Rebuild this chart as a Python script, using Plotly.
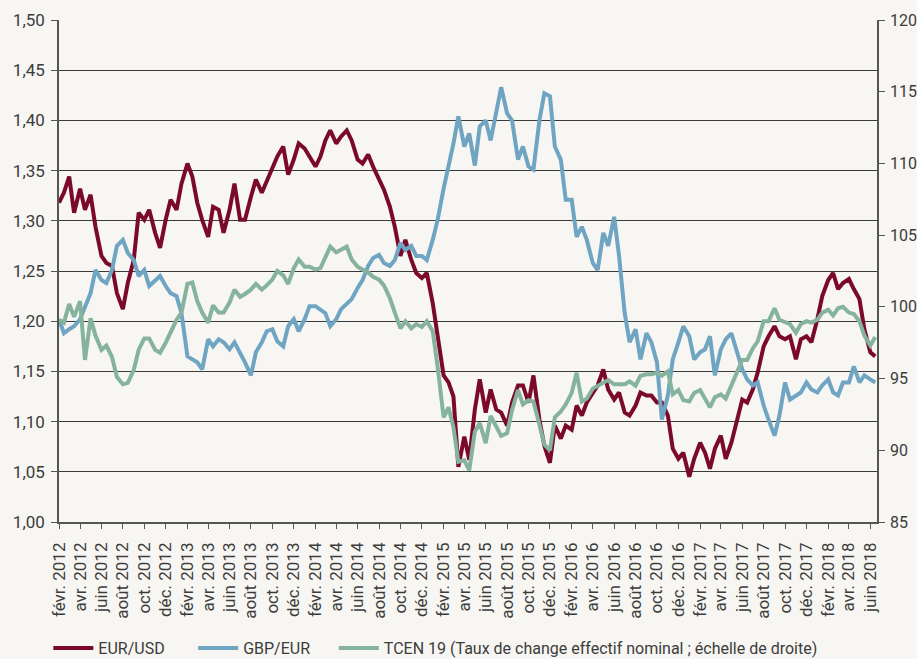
import pandas as pd
import plotly.graph_objects as go

# semi-monthly observation dates (1st and 15th of each month), Feb 2012 - Jun 2018
dates = pd.date_range("2012-02-01", "2018-06-15", freq="SMS")

eur_usd = [
    1.318, 1.328, 1.344, 1.308, 1.332, 1.311, 1.326, 1.294, 1.265, 1.258,
    1.255, 1.228, 1.212, 1.238, 1.261, 1.308, 1.301, 1.311, 1.288, 1.273,
    1.301, 1.321, 1.311, 1.337, 1.357, 1.344, 1.318, 1.301, 1.284, 1.314,
    1.311, 1.288, 1.311, 1.337, 1.301, 1.301, 1.324, 1.341, 1.328, 1.340,
    1.354, 1.364, 1.374, 1.346, 1.361, 1.377, 1.372, 1.364, 1.354, 1.364,
    1.380, 1.390, 1.377, 1.384, 1.390, 1.380, 1.361, 1.357, 1.366, 1.354,
    1.342, 1.331, 1.314, 1.294, 1.265, 1.281, 1.261, 1.248, 1.243, 1.248,
    1.218, 1.185, 1.146, 1.139, 1.125, 1.055, 1.085, 1.062, 1.112, 1.142,
    1.109, 1.132, 1.112, 1.109, 1.096, 1.119, 1.136, 1.136, 1.119, 1.146,
    1.102, 1.076, 1.059, 1.096, 1.083, 1.096, 1.092, 1.116, 1.106, 1.119,
    1.129, 1.136, 1.152, 1.132, 1.122, 1.129, 1.109, 1.106, 1.116, 1.129,
    1.126, 1.126, 1.119, 1.119, 1.106, 1.073, 1.063, 1.069, 1.045, 1.063,
    1.079, 1.069, 1.053, 1.073, 1.086, 1.063, 1.079, 1.099, 1.122, 1.119,
    1.132, 1.149, 1.175, 1.185, 1.195, 1.185, 1.182, 1.185, 1.162, 1.182,
    1.185, 1.179, 1.202, 1.225, 1.241, 1.248, 1.232, 1.238, 1.242, 1.232,
    1.222, 1.192, 1.169, 1.165,
]

gbp_eur = [
    1.202, 1.188, 1.192, 1.195, 1.202, 1.215, 1.228, 1.251, 1.241, 1.238,
    1.251, 1.275, 1.281, 1.268, 1.261, 1.245, 1.251, 1.235, 1.241, 1.245,
    1.235, 1.228, 1.225, 1.208, 1.165, 1.162, 1.159, 1.152, 1.182, 1.175,
    1.182, 1.179, 1.172, 1.179, 1.169, 1.159, 1.146, 1.169, 1.179, 1.190,
    1.192, 1.180, 1.175, 1.195, 1.202, 1.190, 1.202, 1.215, 1.215, 1.212,
    1.208, 1.195, 1.202, 1.212, 1.217, 1.222, 1.233, 1.241, 1.255, 1.263,
    1.266, 1.258, 1.255, 1.261, 1.278, 1.271, 1.275, 1.265, 1.265, 1.261,
    1.281, 1.301, 1.332, 1.354, 1.377, 1.404, 1.374, 1.387, 1.355, 1.394,
    1.400, 1.380, 1.407, 1.433, 1.407, 1.400, 1.361, 1.374, 1.354, 1.351,
    1.400, 1.427, 1.424, 1.374, 1.361, 1.321, 1.321, 1.284, 1.294, 1.281,
    1.258, 1.251, 1.288, 1.275, 1.304, 1.265, 1.208, 1.179, 1.192, 1.162,
    1.188, 1.179, 1.159, 1.102, 1.126, 1.162, 1.179, 1.195, 1.185, 1.162,
    1.169, 1.172, 1.185, 1.146, 1.172, 1.182, 1.188, 1.172, 1.152, 1.142,
    1.136, 1.139, 1.116, 1.102, 1.086, 1.106, 1.139, 1.122, 1.126, 1.129,
    1.139, 1.132, 1.129, 1.136, 1.142, 1.129, 1.126, 1.139, 1.139, 1.155,
    1.139, 1.146, 1.142, 1.139,
]

tcen19 = [
    99.1, 98.9, 100.2, 99.3, 100.4, 96.3, 99.2, 98.0, 97.0, 97.3,
    96.5, 95.1, 94.6, 94.7, 95.6, 97.0, 97.8, 97.8, 97.0, 96.8,
    97.5, 98.3, 99.1, 99.6, 101.6, 101.7, 100.4, 99.6, 98.9, 100.1,
    99.6, 99.6, 100.3, 101.2, 100.7, 100.9, 101.2, 101.6, 101.2, 101.5,
    101.9, 102.5, 102.2, 101.6, 102.7, 103.3, 102.8, 102.8, 102.6, 102.7,
    103.4, 104.2, 103.8, 104.0, 104.2, 103.3, 102.8, 102.6, 102.4, 102.1,
    101.9, 101.5, 100.6, 99.6, 98.5, 99.0, 98.5, 98.8, 98.6, 99.0,
    98.3, 95.8, 92.3, 93.0, 91.6, 89.2, 89.3, 88.6, 91.3, 91.9,
    90.5, 92.4, 91.6, 91.0, 91.2, 92.8, 94.2, 93.2, 93.5, 93.4,
    91.8, 90.4, 90.0, 92.3, 92.7, 93.2, 94.0, 95.4, 93.4, 93.6,
    94.3, 94.5, 94.7, 94.9, 94.6, 94.6, 94.6, 94.8, 94.5, 95.2,
    95.3, 95.3, 95.4, 95.2, 95.5, 93.9, 94.2, 93.5, 93.4, 94.0,
    94.2, 93.6, 93.0, 93.7, 93.9, 93.6, 94.5, 95.3, 96.3, 96.3,
    97.1, 97.6, 99.0, 99.0, 99.9, 99.1, 98.9, 98.8, 98.2, 98.8,
    99.0, 98.9, 99.1, 99.6, 99.8, 99.4, 99.9, 100.0, 99.6, 99.5,
    99.0, 98.0, 97.3, 97.9,
]

series_names = ["EUR/USD", "GBP/EUR",
                "TCEN 19 (Taux de change effectif nominal ; échelle de droite)"]
colors = ["#7b0a2a", "#6fa5c2", "#86b39d"]

month_abbr = ["févr.", "avr.", "juin", "août", "oct.", "déc."]
month_num = [2, 4, 6, 8, 10, 12]
years = [2012, 2013, 2014, 2015, 2016, 2017, 2018]
tick_vals, tick_text = [], []
for y in years:
    for m, a in zip(month_num, month_abbr):
        if (y == 2018 and m > 6):
            continue
        tick_vals.append(f"{y}-{m:02d}-01")
        tick_text.append(f"{a} {y}")

font_family = "Roboto, 'DejaVu Sans', sans-serif"
text_color = "#3c3c3c"
bg = "#f7f6f2"

fig = go.Figure()
fig.add_trace(go.Scatter(x=dates, y=eur_usd, name=series_names[0], mode="lines",
                         line=dict(color=colors[0], width=4), legend="legend"))
fig.add_trace(go.Scatter(x=dates, y=gbp_eur, name=series_names[1], mode="lines",
                         line=dict(color=colors[1], width=4), legend="legend2"))
fig.add_trace(go.Scatter(x=dates, y=tcen19, name=series_names[2], mode="lines",
                         line=dict(color=colors[2], width=4), yaxis="y2",
                         legend="legend3"))

legend_common = dict(orientation="h", xanchor="left", y=-0.251, yanchor="middle",
                     font=dict(size=16, color=text_color), bgcolor="rgba(0,0,0,0)",
                     itemwidth=40)

fig.update_layout(
    width=917, height=659,
    paper_bgcolor=bg, plot_bgcolor=bg,
    margin=dict(l=59, r=40, t=20, b=137, autoexpand=False),
    separators=", ",
    font=dict(family=font_family, color=text_color, size=16),
    showlegend=True,
    legend=dict(x=-0.013, **legend_common),
    legend2=dict(x=0.164, **legend_common),
    legend3=dict(x=0.336, **legend_common),
    xaxis=dict(
        type="date", range=["2012-02-01", "2018-06-20"], automargin=False,
        tickmode="array", tickvals=tick_vals, ticktext=tick_text,
        tickangle=-90, ticks="outside", ticklen=5, tickcolor="#555",
        ticklabelstandoff=7,
        showgrid=False, showline=True, linecolor="#555", linewidth=1.5,
        tickfont=dict(size=17, color=text_color), zeroline=False,
    ),
    yaxis=dict(
        range=[1.0, 1.5], dtick=0.05, tick0=1.0, tickformat=".2f", automargin=False,
        ticks="outside", ticklen=6, tickcolor="#555", ticklabelstandoff=3,
        showgrid=True, gridcolor="#3a3a3a", gridwidth=1,
        showline=True, linecolor="#555", linewidth=1.5,
        tickfont=dict(size=17, color=text_color), zeroline=False,
    ),
    yaxis2=dict(
        range=[85, 120], dtick=5, tick0=85, overlaying="y", side="right", automargin=False,
        ticks="outside", ticklen=6, tickcolor="#555", ticklabelstandoff=2,
        showgrid=False, showline=True, linecolor="#555", linewidth=1.5,
        tickfont=dict(size=16, color=text_color), zeroline=False,
    ),
)

fig.write_html(
    "out.html",
    config={"displayModeBar": False},
    post_script="document.body.style.margin='0';document.body.style.background='%s';" % bg,
)
